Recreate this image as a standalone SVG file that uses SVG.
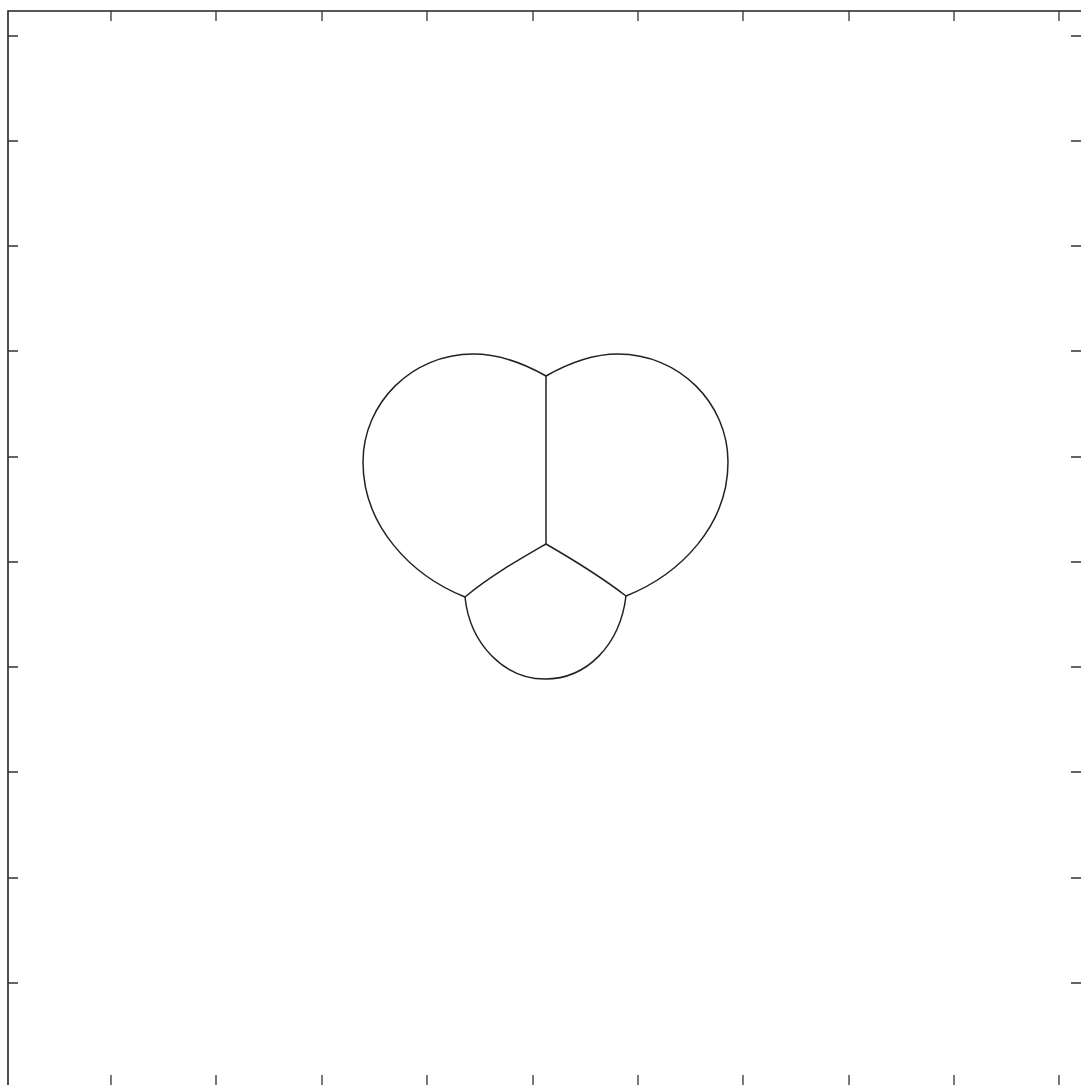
<svg xmlns="http://www.w3.org/2000/svg" width="1081" height="1085" viewBox="0 0 1081 1085">
<style>
.ax{stroke:#222;stroke-width:1.6;fill:none}
.tk{stroke:#333;stroke-width:1.3;fill:none}
.c{stroke:#222;stroke-width:1.5;fill:none}
</style>
<rect width="1081" height="1085" fill="#fff"/>
<g id="frame">
<path class="ax" d="M8,1085 V11 H1081"/>
<path class="tk" d="M111,11v10M216,11v10M322,11v10M427,11v10M533,11v10M638,11v10M743,11v10M849,11v10M954,11v10M1059,11v10"/>
<path class="tk" d="M111,1085v-10M216,1085v-10M322,1085v-10M427,1085v-10M533,1085v-10M638,1085v-10M743,1085v-10M849,1085v-10M954,1085v-10M1059,1085v-10"/>
<path class="tk" d="M8,36h10M8,141h10M8,246h10M8,351h10M8,457h10M8,562h10M8,667h10M8,772h10M8,878h10M8,983h10"/>
<path class="tk" d="M1081,36h-10M1081,141h-10M1081,246h-10M1081,351h-10M1081,457h-10M1081,562h-10M1081,667h-10M1081,772h-10M1081,878h-10M1081,983h-10"/>
</g>
<g id="left-lobe"><path class="c" d="M546,376 C525,364 500,354 473,354 C412,354 363,403 363,462 C363,525 410,575 465,597"/></g>
<g id="right-lobe"><path class="c" d="M546,376 C567,364 592,354 618,354 C679,354 728,403 728,462 C728,525 681,574 626,596"/></g>
<g id="bottom-lobe"><path class="c" d="M465,597 C470,645 505,679 545,679 C587,679 620,645 626,596"/></g>
<g id="connectors">
<path class="c" d="M546,376 L546,544"/>
<path class="c" d="M546,544 C520,559 490,576 465,597"/>
<path class="c" d="M546,544 C572,559 600,576 626,596"/>
</g>
</svg>
